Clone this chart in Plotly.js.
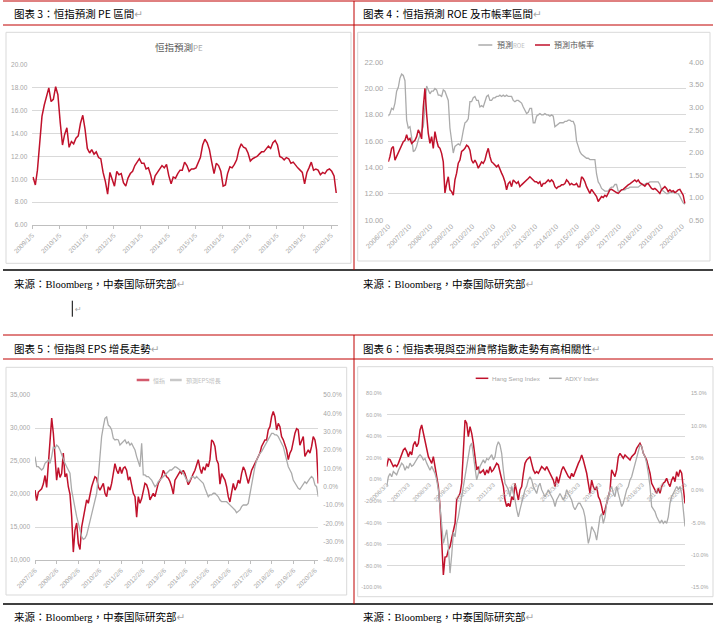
<!DOCTYPE html>
<html><head><meta charset="utf-8">
<script src="https://cdn.plot.ly/plotly-3.0.1.min.js"></script>
<style>html,body{margin:0;padding:0;background:#fff}#chart{width:718px;height:626px}</style>
</head><body><div id="chart"></div>
<script>
// ---------- Chart 3: 恒指預測PE (monthly, 2009-01 .. 2020-03) ----------
const peValues = [
10.2, 9.5,10.8,13.2,15.5,16.5,17.2,18.0,16.8,17.0,18.1,17.4,
15.0,13.0,13.9,14.5,12.8,13.3,13.1,13.6,13.8,14.9,15.6,14.4,
12.7,12.3,12.6,12.2,12.4,11.9,11.8,10.6, 9.8, 8.7,10.6, 9.9,
 9.4,10.7,10.4,10.5, 9.7, 9.4,10.1,10.5,10.7,11.2,11.5,11.8,
11.4,11.4,10.9,11.0,10.4, 9.5,10.3,10.6,11.0,11.2,11.0,11.3,
10.3, 9.6,10.2,10.1,10.5,10.8,10.8,11.5,11.2,10.7,10.9,10.9,
11.0,11.4,11.9,13.0,13.5,13.2,12.6,11.5,10.5,11.4,11.2,10.7,
 9.4, 9.5,10.5,11.1,11.0,11.3,11.7,12.6,13.1,12.8,12.7,12.3,
11.6,11.8,11.9,12.0,12.2,12.4,12.4,12.7,12.9,12.7,13.2,13.4,
13.0,12.0,11.9,11.7,11.9,11.8,11.4,11.5,11.2,11.0,10.8,10.6,
 9.6,10.6,11.0,11.5,10.8,10.9,10.8,10.4,10.6,10.5,10.8,10.9,
10.7,10.3, 8.8];
const peTickText = ['2009/1/5','2010/1/5','2011/1/5','2012/1/5','2013/1/5','2014/1/5','2015/1/5','2016/1/5','2017/1/5','2018/1/5','2019/1/5','2020/1/5'];
const peYTicks = [6,8,10,12,14,16,18,20];

// ---------- Chart 4: 預測ROE (left) & 預測市帳率 (right) ----------
const roeValues = [
17.9,18.1,18.5,18.4,18.9,19.8,20.1,20.8,21.1,21.0,
20.6,17.6,17.0,17.1,16.3,15.2,15.3,15.6,16.1,16.5,
16.8,17.1,18.6,20.2,19.9,19.6,19.8,19.8,20.0,19.9,
19.5,19.5,19.4,19.9,19.8,19.4,19.1,17.0,16.0,15.1,
15.6,15.7,15.8,15.7,16.1,16.8,17.4,17.5,17.7,19.0,
19.0,19.3,19.4,19.1,19.1,18.6,18.7,18.6,19.0,19.4,
19.5,19.1,19.1,19.3,19.3,19.4,19.4,19.5,19.4,19.5,
19.4,19.5,19.4,19.4,19.4,19.1,19.0,19.1,19.1,19.0,
18.9,18.6,18.4,18.1,18.2,18.5,18.5,17.4,17.4,17.9,
18.0,18.1,18.0,18.0,18.1,18.0,18.0,17.9,18.0,17.9,
17.1,17.2,17.3,17.4,17.4,17.4,17.5,17.5,17.6,17.6,
17.5,17.5,17.2,16.0,15.6,15.2,15.0,14.9,14.8,14.7,
14.7,14.6,14.6,14.6,14.6,13.5,12.9,12.7,12.4,12.3,
12.2,12.2,12.2,12.4,12.5,12.5,12.7,12.7,12.2,12.2,
12.3,12.3,12.3,12.4,12.4,12.5,12.5,12.5,12.5,12.5,
12.5,12.6,12.7,12.7,12.7,12.8,12.8,12.9,12.9,12.9,
12.9,12.9,12.9,12.7,12.3,12.2,12.1,12.0,12.0,12.1,
12.1,12.1,12.1,12.0,12.0,11.8,11.5,11.3,11.2];
const pbValues = [
1.79,1.91,2.09,2.13,1.83,1.91,1.98,2.05,2.13,2.24,
2.27,2.39,2.27,2.31,2.20,2.24,2.27,2.35,2.50,2.42,
2.30,3.00,3.42,2.85,2.42,2.20,2.35,2.09,2.46,2.27,
2.13,2.09,1.98,1.79,1.10,1.31,1.46,1.17,1.13,1.05,
1.39,1.54,1.76,1.83,2.02,2.05,2.09,2.16,2.13,2.05,
1.83,1.76,1.83,1.76,1.65,1.72,1.79,1.76,1.83,1.98,
2.09,1.91,1.79,1.76,1.72,1.68,1.72,1.61,1.54,1.46,
1.35,1.17,1.31,1.35,1.24,1.39,1.35,1.31,1.35,1.24,
1.28,1.31,1.35,1.39,1.42,1.46,1.42,1.39,1.35,1.35,
1.31,1.35,1.24,1.31,1.31,1.35,1.39,1.35,1.39,1.35,
1.24,1.20,1.24,1.25,1.28,1.28,1.31,1.39,1.35,1.28,
1.31,1.28,1.28,1.31,1.24,1.24,1.46,1.42,1.35,1.24,
1.17,1.09,1.18,1.13,1.09,1.02,0.91,0.98,1.02,1.00,
1.05,1.02,1.09,1.17,1.18,1.15,1.13,1.11,1.09,1.13,
1.17,1.18,1.22,1.24,1.28,1.30,1.33,1.35,1.39,1.35,
1.39,1.33,1.31,1.28,1.25,1.30,1.31,1.24,1.20,1.18,
1.20,1.17,1.13,1.09,1.17,1.20,1.24,1.20,1.13,1.17,
1.13,1.15,1.11,1.13,1.17,1.18,1.11,1.05,0.87];
const pbTickText = ['2006/2/10','2007/2/10','2008/2/10','2009/2/10','2010/2/10','2011/2/10','2012/2/10','2013/2/10','2014/2/10','2015/2/10','2016/2/10','2017/2/10','2018/2/10','2019/2/10','2020/2/10'];
const roeYTicks = [10,12,14,16,18,20,22];
const pbYTicks = [0.5,1.0,1.5,2.0,2.5,3.0,3.5,4.0];

// ---------- Chart 5: 恒指 (left) & 預測EPS增長 (right, %) ----------
const hsiLevels = [
20600,19000,20300,20500,20800,21500,22800,21000,24500,28700,
31500,29200,26000,22100,24000,22500,23100,26200,22600,23100,
21100,20000,16600,11200,14500,15600,12500,11600,15000,16600,
18100,19100,18600,20100,21100,21900,22600,22400,21100,20600,
21100,21600,20100,19600,21100,20600,21600,23100,24600,23600,
23100,24100,23100,23900,24100,23600,22100,22600,21100,20100,
19600,16500,19600,18600,19300,20600,21600,21400,20600,19100,
19600,20100,19600,20600,21600,22100,22600,23600,23100,22600,
22400,21900,21100,20000,22100,22600,23100,23400,23100,23600,
23100,22400,21400,21900,22600,23100,23600,24600,25200,23900,
23100,24100,23600,24600,24100,25200,28200,27900,27200,25200,
24600,21500,23100,22600,22100,21100,19600,18800,20300,21600,
20600,21100,22100,21600,23100,24100,23600,22600,21600,22600,
23600,24100,24600,25200,25700,26200,27200,27700,28200,28200,
29700,30200,31700,32500,31700,29700,30700,30200,28700,28200,
27400,26700,25200,26200,26700,28200,29200,29900,29700,27400,
28200,28700,25700,26200,26700,26200,27200,28700,28200,26700,
21600];
const epsGrowth = [
16.4,10.9,10.9,10.0,9.1,10.0,12.7,13.6,14.5,12.7,
16.4,21.8,20.9,22.7,21.8,20.0,17.3,15.5,12.7,10.9,
9.1,7.3,-2.0,-7.3,-12.7,-16.4,-20.0,-23.6,-27.3,-28.7,
-28.2,-26.4,-22.7,-19.1,-15.5,-11.8,-7.3,-3.6,5.5,16.4,
27.3,32.7,37.3,38.0,33.6,32.7,30.9,26.4,25.5,25.8,
25.5,22.7,23.6,24.5,25.5,23.6,24.5,22.7,23.6,21.8,
20.0,16.4,13.6,10.9,23.6,6.4,6.4,5.5,5.5,4.5,
3.6,1.8,0.0,0.9,2.7,3.6,4.5,5.5,6.4,7.3,
8.2,9.1,9.1,10.0,10.9,10.5,10.0,9.1,8.2,7.3,
5.5,3.6,2.7,3.6,5.5,5.5,4.5,5.5,4.5,3.6,
2.7,1.8,-0.9,-3.6,-5.5,-4.5,-4.5,-3.6,-3.6,-4.5,
-5.5,-7.3,-8.2,-8.2,-8.2,-8.2,-9.1,-10.0,-10.9,-11.8,
-12.7,-14.2,-13.6,-12.7,-10.9,-10.0,-10.0,-10.0,-9.1,-3.6,
1.8,7.3,10.9,14.5,16.4,18.2,19.1,20.9,22.7,24.5,
26.4,28.2,29.1,29.1,28.2,28.2,27.3,25.5,23.6,21.8,
18.2,13.6,10.9,9.1,7.3,3.6,1.8,0.0,-0.9,-1.5,
0.0,1.8,2.7,1.8,3.6,4.5,5.5,4.5,0.9,0.0,
-5.5];
const epsTickText = ['2007/2/6','2008/2/6','2009/2/6','2010/2/6','2011/2/6','2012/2/6','2013/2/6','2014/2/6','2015/2/6','2016/2/6','2017/2/6','2018/2/6','2019/2/6','2020/2/6'];
const hsiYTicks = [10000,15000,20000,25000,30000,35000];
const epsYTicks = [-40,-30,-20,-10,0,10,20,30,40,50];

// ---------- Chart 6: Hang Seng Index YoY (left) & ADXY Index YoY (right) ----------
const hsiYoY = [
12.0,19.0,18.5,15.0,12.0,13.5,12.0,15.0,19.7,24.3,
27.4,29.0,25.9,21.2,25.9,22.8,32.1,35.2,30.5,33.6,
46.0,50.6,42.9,36.7,27.4,21.2,18.1,15.0,21.2,12.0,
2.7,-6.6,-25.2,-60.0,-88.6,-72.0,-71.6,-65.4,-62.3,-54.5,
-46.8,-40.6,-19.0,-15.9,-12.8,-3.5,27.4,55.0,52.2,39.8,
49.1,42.9,33.6,21.2,8.9,12.0,5.8,7.3,8.9,4.2,
8.9,5.8,12.0,7.3,8.9,12.0,15.0,13.5,7.3,2.7,
-6.6,-19.0,-25.2,-22.2,-25.2,-15.9,-19.0,-3.5,-9.7,-19.0,
-9.7,-6.6,5.8,15.0,18.1,19.7,21.2,15.0,8.9,5.8,
7.3,5.8,8.9,12.0,10.5,8.9,12.0,8.9,5.8,2.7,
-0.6,-6.6,2.7,-3.5,2.7,8.9,12.0,8.9,5.8,2.7,
1.2,5.8,2.7,7.3,12.0,15.0,18.1,22.8,18.1,12.0,
5.8,-3.5,-12.8,-0.6,-6.6,-9.7,-6.6,-15.9,-19.0,-25.2,
-32.9,-28.3,-22.2,-15.9,-9.7,8.9,5.8,2.7,8.9,21.2,
24.3,21.2,19.7,22.8,21.2,19.7,18.1,21.2,22.8,24.3,
29.0,32.1,33.6,30.5,24.3,21.2,18.1,12.0,5.8,-3.5,
-6.6,-9.7,-12.8,-8.2,-12.8,-6.6,-3.5,-2.0,1.2,-3.5,
-6.6,-0.6,2.7,-2.0,7.3,2.7,8.9,5.8,-6.6,-22.2];
const adxyYoY = [
0.6,2.1,2.6,2.1,2.9,2.6,2.4,3.1,3.7,4.2,
3.9,3.1,3.7,3.4,4.2,3.7,3.9,4.4,4.7,5.2,
5.5,5.2,4.7,4.9,4.2,3.7,3.1,3.7,3.1,2.6,
1.6,0.1,-2.5,-6.1,-8.2,-7.2,-6.1,-8.7,-12.8,-10.0,
-6.5,-7.2,-5.1,-4.1,-2.5,-1.0,0.6,2.6,4.2,5.2,
6.8,7.3,5.2,3.1,1.6,2.6,3.7,4.2,4.7,4.2,
4.9,4.7,5.2,5.5,4.7,5.2,6.8,7.5,7.0,5.7,
3.1,1.1,0.6,0.1,-1.0,0.6,-0.5,-1.5,-3.0,-4.1,
-3.0,-2.0,-1.0,0.1,0.6,1.6,2.1,1.6,0.6,0.1,
-0.5,0.6,1.1,0.1,-0.5,-1.0,-0.5,0.1,-0.5,-1.0,
-1.5,-2.5,-1.5,-1.0,-0.5,-1.0,-1.5,-1.0,0.1,-0.5,
-1.0,-1.5,-2.5,-3.0,-2.5,-2.0,-2.0,-2.5,-3.0,-4.1,
-6.1,-8.2,-7.2,-5.6,-6.1,-6.6,-7.7,-6.1,-4.1,-3.6,
-5.1,-4.1,-2.0,-1.0,0.1,0.6,-0.5,-1.0,0.6,-0.5,
-1.5,-2.5,-2.0,-1.0,0.1,0.6,1.6,2.1,3.1,4.2,
5.2,6.2,7.0,6.8,5.7,5.2,4.2,2.6,0.6,-2.5,
-3.0,-3.3,-4.1,-4.6,-5.1,-4.6,-5.1,-4.8,-5.1,-4.1,
-2.0,-1.0,-0.5,0.1,0.6,0.1,0.6,-0.5,-3.0,-5.6];
const fxTickText = ['2006/3/3','2007/3/3','2008/3/3','2009/3/3','2010/3/3','2011/3/3','2012/3/3','2013/3/3','2014/3/3','2015/3/3','2016/3/3','2017/3/3','2018/3/3','2019/3/3','2020/3/3'];
const hsiYoYTicks = [-100,-80,-60,-40,-20,0,20,40,60,80];
const adxyTicks = [-15,-10,-5,0,5,10,15];

// ---------- helpers ----------
const W = 718, H = 626;
const X = p => p / W, Y = p => 1 - p / H;
function monthSeq(y, m, n) {
  const out = [];
  for (let i = 0; i < n; i++) {
    const mm = m - 1 + i, yy = y + Math.floor(mm / 12), mo = (mm % 12) + 1;
    out.push(yy + '-' + String(mo).padStart(2, '0') + '-15');
  }
  return out;
}
function dateSeq(start, stepDays, n) {
  const t0 = Date.parse(start + 'T00:00:00Z');
  return Array.from({length: n}, (_, i) => new Date(t0 + Math.round(i * stepDays) * 86400000).toISOString().slice(0, 10));
}
const toIso = s => { const [y, m, d] = s.split('/'); return y + '-' + m.padStart(2, '0') + '-' + d.padStart(2, '0'); };

const peDates = monthSeq(2009, 1, peValues.length);
const roeDates = dateSeq('2006-02-10', 29.0, roeValues.length);
const epsDates = dateSeq('2007-02-06', 28.26, hsiLevels.length);
const fxDates = dateSeq('2006-03-03', 28.58, hsiYoY.length);

const RED = '#c0112b', GRAY = '#ababab', GRID = '#d9d9d9', TICK = '#a6a6a6';
const NUM = 'Liberation Sans, Arial, sans-serif';
const CJK = 'Noto Sans CJK TC, Noto Sans CJK SC, DejaVu Sans, sans-serif';

const traces = [
  {type: 'scatter', mode: 'lines', name: '恒指預測PE', x: peDates, y: peValues, xaxis: 'x', yaxis: 'y', line: {color: RED, width: 1.5}},
  {type: 'scatter', mode: 'lines', name: '預測ROE', x: roeDates, y: roeValues, xaxis: 'x2', yaxis: 'y2', line: {color: GRAY, width: 1.3}},
  {type: 'scatter', mode: 'lines', name: '預測市帳率', x: roeDates, y: pbValues, xaxis: 'x2', yaxis: 'y3', line: {color: RED, width: 1.5}},
  {type: 'scatter', mode: 'lines', name: '恒指', x: epsDates, y: hsiLevels, xaxis: 'x3', yaxis: 'y4', line: {color: RED, width: 1.5}},
  {type: 'scatter', mode: 'lines', name: '預測EPS增長', x: epsDates, y: epsGrowth, xaxis: 'x3', yaxis: 'y5', line: {color: GRAY, width: 1.3}},
  {type: 'scatter', mode: 'lines', name: 'Hang Seng Index', x: fxDates, y: hsiYoY, xaxis: 'x4', yaxis: 'y6', line: {color: RED, width: 1.5}},
  {type: 'scatter', mode: 'lines', name: 'ADXY Index', x: fxDates, y: adxyYoY, xaxis: 'x4', yaxis: 'y7', line: {color: GRAY, width: 1.3}}
];

function xAx(domain, range, ticks, fontSize, extra) {
  return Object.assign({
    domain: domain, type: 'date', range: range,
    tickmode: 'array', tickvals: ticks.map(toIso), ticktext: ticks,
    tickangle: -45, tickfont: {family: NUM, size: fontSize, color: TICK},
    showgrid: false, zeroline: false, showline: false, ticks: '', fixedrange: true
  }, extra || {});
}
function yAx(domain, range, vals, texts, fontSize, extra) {
  return Object.assign({
    domain: domain, range: range, tickmode: 'array', tickvals: vals, ticktext: texts,
    tickfont: {family: NUM, size: fontSize, color: TICK},
    showgrid: true, gridcolor: GRID, gridwidth: 1, zeroline: false, showline: false, ticks: '',
    ticklabelstandoff: 4, fixedrange: true
  }, extra || {});
}
const f2 = v => v.toFixed(2), p1 = v => v.toFixed(1) + '%';

const layout = {
  width: W, height: H, margin: {l: 0, r: 0, t: 0, b: 0},
  paper_bgcolor: '#ffffff', plot_bgcolor: 'rgba(0,0,0,0)', showlegend: false,
  xaxis: xAx([X(32.3), X(338)], ['2009-01-05', '2020-04-08'], peTickText, 6.5,
    {anchor: 'y', showline: true, linecolor: '#bfbfbf', ticks: 'outside', ticklen: 3, tickcolor: '#bfbfbf'}),
  yaxis: yAx([Y(225), Y(65)], [6, 20], peYTicks, peYTicks.map(f2), 6.5, {anchor: 'x'}),

  xaxis2: xAx([X(388.3), X(686)], ['2006-02-10', '2020-04-19'], pbTickText, 7, {anchor: 'y2'}),
  yaxis2: yAx([Y(220), Y(62.3)], [10, 22], roeYTicks, roeYTicks.map(f2), 7.5, {anchor: 'x2'}),
  yaxis3: yAx([Y(220), Y(62.3)], [0.5, 4], pbYTicks, pbYTicks.map(f2), 7.5,
    {anchor: 'x2', overlaying: 'y2', side: 'right', showgrid: false, ticklabelstandoff: 2}),

  xaxis3: xAx([X(35), X(318.3)], ['2007-02-06', '2020-04-03'], epsTickText, 6.5,
    {anchor: 'y4', showline: true, linecolor: '#bfbfbf', ticks: 'outside', ticklen: 3, tickcolor: '#bfbfbf'}),
  yaxis4: yAx([Y(560), Y(395)], [10000, 35000], hsiYTicks, hsiYTicks.map(v => v.toLocaleString('en-US')), 6.5, {anchor: 'x3'}),
  yaxis5: yAx([Y(560), Y(395)], [-40, 50], epsYTicks, epsYTicks.map(p1), 6.5,
    {anchor: 'x3', overlaying: 'y4', side: 'right', showgrid: false}),

  xaxis4: xAx([X(386.7), X(685)], ['2006-03-03', '2020-03-05'], fxTickText, 6,
    {anchor: 'free', position: Y(479.3)}),
  yaxis6: yAx([Y(587.3), Y(393.3)], [-100, 80], hsiYoYTicks, hsiYoYTicks.map(p1), 5.5, {anchor: 'x4'}),
  yaxis7: yAx([Y(587.3), Y(393.3)], [-15, 15], adxyTicks, adxyTicks.map(p1), 5.5,
    {anchor: 'x4', overlaying: 'y6', side: 'right', showgrid: false, ticklabelstandoff: 5})
};

// ---------- document frame: lines, boxes, legends ----------
const DOC_RED = '#c00000';
function seg(x0, y0, x1, y1, color, width) {
  return {type: 'line', xref: 'paper', yref: 'paper', x0: X(x0), y0: Y(y0), x1: X(x1), y1: Y(y1), line: {color: color, width: width}};
}
function box(x0, y0, x1, y1) {
  return {type: 'rect', xref: 'paper', yref: 'paper', x0: X(x0), y0: Y(y1), x1: X(x1), y1: Y(y0), line: {color: GRID, width: 1}, fillcolor: 'rgba(0,0,0,0)', layer: 'below'};
}
layout.shapes = [
  seg(3, 1, 713, 1, DOC_RED, 1), seg(3, 25, 713, 25, DOC_RED, 1), seg(3, 270, 713, 270, '#000', 1.3), seg(354, 1, 354, 270, DOC_RED, 1),
  seg(3, 335, 713, 335, DOC_RED, 1), seg(3, 359, 713, 359, DOC_RED, 1), seg(3, 604, 713, 604, '#000', 1.3), seg(354, 335, 354, 604, DOC_RED, 1),
  box(6, 32.3, 351, 263.3), box(357.7, 32.3, 710, 261), box(6, 367.3, 346.7, 595), box(357.7, 366.7, 713, 596.7),
  seg(72.3, 300.7, 72.3, 316.7, '#000', 1),
  // legend samples
  seg(478.3, 45, 492.3, 45, GRAY, 1.5), seg(535, 45, 550, 45, RED, 1.5),
  seg(136.7, 380, 149.3, 380, '#d35a6c', 2.5), seg(170, 380, 181.7, 380, '#c8c8c8', 2.5),
  seg(475.7, 378.3, 488.3, 378.3, RED, 1.5), seg(549, 378.3, 561.7, 378.3, GRAY, 1.5)
];

const RET = '<span style="color:#a8a8a8">↵</span>';
function note(text, x, y, size, color, xanchor, family) {
  return {text: text, x: X(x), y: Y(y), xref: 'paper', yref: 'paper', showarrow: false,
    xanchor: xanchor || 'left', yanchor: 'middle', font: {family: family || CJK, size: size, color: color}};
}
const SRC = '来源：<span style="font-family:Liberation Serif">Bloomberg</span>，中泰国际研究部' + RET;
layout.annotations = [
  note('图表 3：恒指預測 PE 區間' + RET, 11.5, 14, 10.5, '#000'),
  note('图表 4：恒指預測 ROE 及市帳率區間' + RET, 361.5, 14, 10.5, '#000'),
  note(SRC, 11.5, 283.3, 10.5, '#000'),
  note(SRC, 361.5, 283.3, 10.5, '#000'),
  note('<span style="color:#a8a8a8">↵</span>', 73, 309, 8, '#a8a8a8'),
  note('图表 5：恒指與 EPS 增長走勢' + RET, 11.5, 348.3, 10.5, '#000'),
  note('图表 6：恒指表現與亞洲貨幣指數走勢有高相關性' + RET, 361.5, 348.3, 10.5, '#000'),
  note(SRC, 11.5, 616.7, 10.5, '#000'),
  note(SRC, 361.5, 616.7, 10.5, '#000'),
  // chart title / legends
  note('恒指預測<span style="color:#a6a6a6;font-size:8px">PE</span>', 178.8, 46.7, 9.5, '#595959', 'center'),
  note('預測<span style="color:#bfbfbf;font-size:6px">ROE</span>', 494.5, 45, 8, '#595959'),
  note('預測市帳率', 552, 45, 8, '#595959'),
  note('恒指', 150.5, 380, 6, '#bfbfbf'),
  note('預測EPS增長', 183.8, 380, 6, '#bfbfbf'),
  note('Hang Seng Index', 489.5, 378.3, 6.2, '#a6a6a6', 'left', NUM),
  note('ADXY Index', 563, 378.3, 6.2, '#a6a6a6', 'left', NUM)
];

Plotly.newPlot('chart', traces, layout, {staticPlot: true, displayModeBar: false});
</script></body></html>
